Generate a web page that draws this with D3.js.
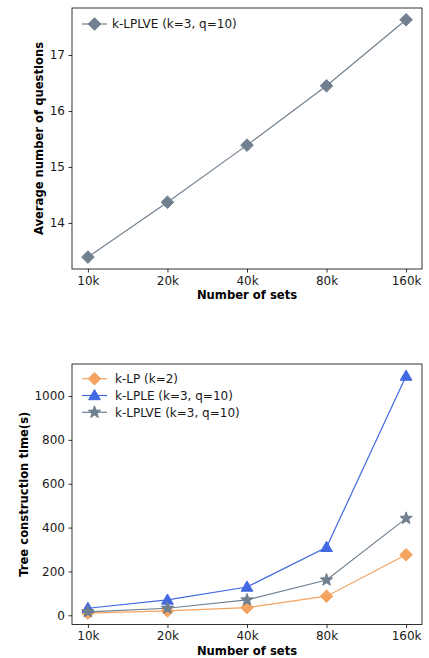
<!DOCTYPE html>
<html><head><meta charset="utf-8">
<script src="https://cdn.jsdelivr.net/npm/d3@7"></script>
<style>html,body{margin:0;padding:0;background:#fff;}svg{display:block;font-family:"DejaVu Sans",sans-serif;}</style>
</head><body>
<svg id="chart" width="429" height="658"></svg>
<script>
const categories = ["10k","20k","40k","80k","160k"];
const questionsLPLVE = [13.39, 14.37, 15.39, 16.45, 17.63];
const timeLP = [10, 20, 35, 87, 276];
const timeLPLE = [32, 70, 129, 310, 1091];
const timeLPLVE = [16, 32, 70, 161, 442];
const yTicksTop = [14, 15, 16, 17];
const yTicksBottom = [0, 200, 400, 600, 800, 1000];

const COL_GRAY = "#708090", COL_ORANGE = "#F4A460", COL_BLUE = "#4169E1";
const svg = d3.select("#chart");

function markerPath(type, r) {
  if (type === "diamond") return `M0,${-r}L${r},0L0,${r}L${-r},0Z`;
  if (type === "triangle") { const h = r; return `M0,${-h}L${h*0.98},${h*0.7}L${-h*0.98},${h*0.7}Z`; }
  if (type === "star") {
    let p = "";
    for (let i = 0; i < 10; i++) {
      const a = -Math.PI/2 + i*Math.PI/5;
      const rr = i % 2 === 0 ? r : r*0.42;
      p += (i ? "L" : "M") + (rr*Math.cos(a)).toFixed(2) + "," + (rr*Math.sin(a)).toFixed(2);
    }
    return p + "Z";
  }
}

function panel(opts) {
  const {left, right, top, bottom, yDomain, yTicks, series, yLabel, yLabelX, legendY, legendTextX} = opts;
  const g = svg.append("g");
  const x = d3.scaleLinear().domain([-0.2, 4.2]).range([left, right]);
  const y = d3.scaleLinear().domain(yDomain).range([bottom, top]);

  const xAxis = d3.axisBottom(x).tickValues(d3.range(categories.length))
    .tickFormat(i => categories[i]).tickSize(3.5).tickPadding(3.5);
  const yAxis = d3.axisLeft(y).tickValues(yTicks).tickFormat(d3.format("d")).tickSize(3.5).tickPadding(3.5);

  const gx = g.append("g").attr("transform", `translate(0,${bottom})`).call(xAxis);
  const gy = g.append("g").attr("transform", `translate(${left},0)`).call(yAxis);
  [gx, gy].forEach(a => {
    a.select(".domain").remove();
    a.selectAll("text").attr("font-size", 12).attr("fill", "#1a1a1a").attr("font-family", "DejaVu Sans");
    a.selectAll("line").attr("stroke", "#000").attr("stroke-width", 0.8);
  });

  g.append("rect").attr("x", left).attr("y", top).attr("width", right-left).attr("height", bottom-top)
    .attr("fill", "none").attr("stroke", "#000").attr("stroke-width", 0.8);

  const line = d3.line().x((d,i) => x(i)).y(d => y(d));
  series.forEach(s => {
    g.append("path").datum(s.values).attr("d", line).attr("fill", "none")
      .attr("stroke", s.color).attr("stroke-width", 1.2);
    g.selectAll(null).data(s.values).enter().append("path")
      .attr("transform", (d,i) => `translate(${x(i)},${y(d)})`)
      .attr("d", markerPath(s.marker, s.r)).attr("fill", s.color).attr("stroke", s.color).attr("stroke-width", 1);
  });

  // legend
  series.forEach((s, k) => {
    const ly = legendY + k*16.8;
    g.append("line").attr("x1", 82).attr("x2", 107).attr("y1", ly).attr("y2", ly)
      .attr("stroke", s.color).attr("stroke-width", 1.2);
    g.append("path").attr("transform", `translate(94.5,${ly})`).attr("d", markerPath(s.marker, s.r))
      .attr("fill", s.color).attr("stroke", s.color).attr("stroke-width", 1);
    g.append("text").attr("x", legendTextX).attr("y", ly).attr("dy", "0.35em").attr("font-size", 12)
      .attr("fill", "#1a1a1a").text(s.label);
  });

  g.append("text").attr("x", (left+right)/2).attr("y", bottom + 26).attr("dy", "0.35em")
    .attr("text-anchor", "middle").attr("font-size", 11.6).attr("font-weight", "bold").text("Number of sets");
  g.append("text").attr("transform", `translate(${yLabelX},${(top+bottom)/2}) rotate(-90)`)
    .attr("dy", "0.35em").attr("text-anchor", "middle").attr("font-size", 11.6).attr("font-weight", "bold").text(yLabel);
}

panel({
  left: 72, right: 422, top: 8, bottom: 269,
  yDomain: [13.177, 17.84], yTicks: yTicksTop,
  yLabel: "Average number of questions", yLabelX: 39, legendY: 24, legendTextX: 112,
  series: [{label: "k-LPLVE (k=3, q=10)", values: questionsLPLVE, color: COL_GRAY, marker: "diamond", r: 6.3}]
});

panel({
  left: 72, right: 422, top: 364, bottom: 624.5,
  yDomain: [-42, 1146], yTicks: yTicksBottom,
  yLabel: "Tree construction time(s)", yLabelX: 24, legendY: 378.7, legendTextX: 115,
  series: [
    {label: "k-LP (k=2)", values: timeLP, color: COL_ORANGE, marker: "diamond", r: 6.3},
    {label: "k-LPLE (k=3, q=10)", values: timeLPLE, color: COL_BLUE, marker: "triangle", r: 6},
    {label: "k-LPLVE (k=3, q=10)", values: timeLPLVE, color: COL_GRAY, marker: "star", r: 6.5}
  ]
});
</script>
</body></html>
